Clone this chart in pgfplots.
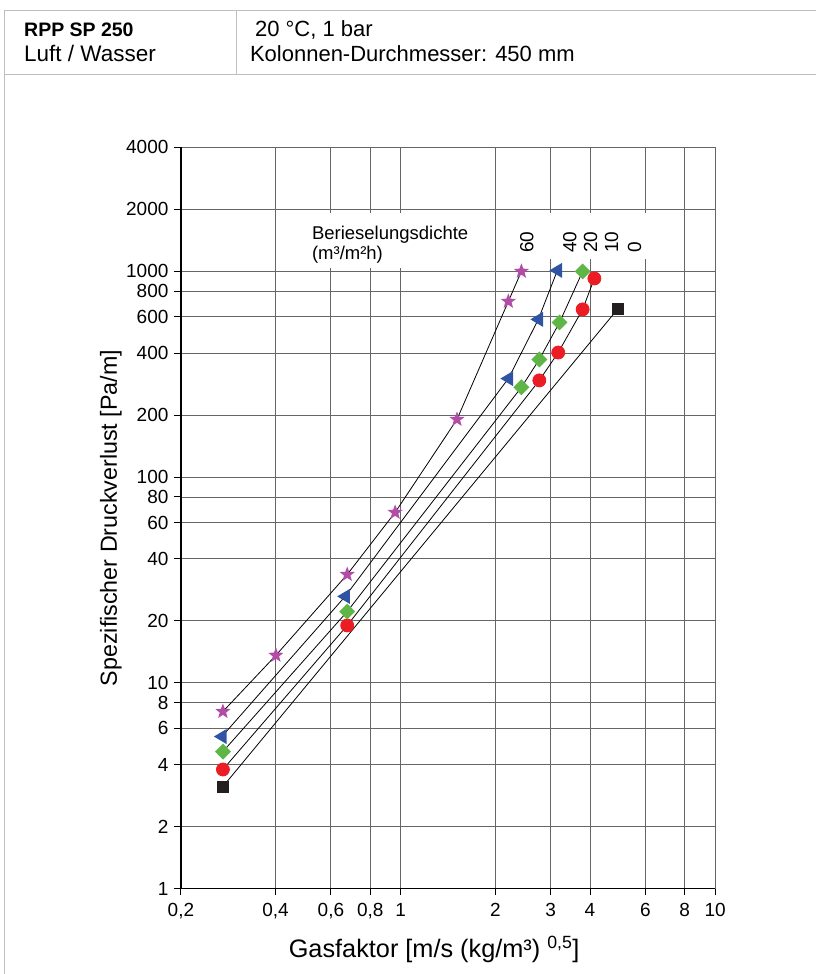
\documentclass[border=0pt]{standalone}
\usepackage{pgfplots}
\pgfplotsset{compat=1.18}
\usepackage{fontspec}
\setmainfont{Liberation Sans}
\usetikzlibrary{plotmarks}
\definecolor{cstar}{RGB}{178,76,166}
\definecolor{ctri}{RGB}{47,84,163}
\definecolor{cdia}{RGB}{95,182,70}
\definecolor{ccirc}{RGB}{236,28,36}
\definecolor{csq}{RGB}{35,31,32}
\definecolor{frame}{RGB}{190,190,190}
\pgfdeclareplotmark{fstar}{%
  \pgfpathmoveto{\pgfpointpolar{90}{\pgfplotmarksize}}%
  \pgfpathlineto{\pgfpointpolar{126}{0.42\pgfplotmarksize}}%
  \pgfpathlineto{\pgfpointpolar{162}{\pgfplotmarksize}}%
  \pgfpathlineto{\pgfpointpolar{198}{0.42\pgfplotmarksize}}%
  \pgfpathlineto{\pgfpointpolar{234}{\pgfplotmarksize}}%
  \pgfpathlineto{\pgfpointpolar{270}{0.42\pgfplotmarksize}}%
  \pgfpathlineto{\pgfpointpolar{306}{\pgfplotmarksize}}%
  \pgfpathlineto{\pgfpointpolar{342}{0.42\pgfplotmarksize}}%
  \pgfpathlineto{\pgfpointpolar{18}{\pgfplotmarksize}}%
  \pgfpathlineto{\pgfpointpolar{54}{0.42\pgfplotmarksize}}%
  \pgfpathclose\pgfusepathqfill}
\pgfdeclareplotmark{sdia}{%
  \pgfpathmoveto{\pgfqpoint{0pt}{\pgfplotmarksize}}%
  \pgfpathlineto{\pgfqpoint{\pgfplotmarksize}{0pt}}%
  \pgfpathlineto{\pgfqpoint{0pt}{-\pgfplotmarksize}}%
  \pgfpathlineto{\pgfqpoint{-\pgfplotmarksize}{0pt}}%
  \pgfpathclose\pgfusepathqfill}
\pgfdeclareplotmark{ltri}{%
  \pgfpathmoveto{\pgfqpoint{-\pgfplotmarksize}{0pt}}%
  \pgfpathlineto{\pgfqpoint{0.6\pgfplotmarksize}{0.95\pgfplotmarksize}}%
  \pgfpathlineto{\pgfqpoint{0.6\pgfplotmarksize}{-0.95\pgfplotmarksize}}%
  \pgfpathclose\pgfusepathqfill}

\pgfplotstableread{
x y
0.272 3.13
4.89 653
}\sqdata
\pgfplotstableread{
x y
0.272 3.79
0.676 19.0
2.76 295
3.17 403
3.79 653
4.13 923
}\circdata
\pgfplotstableread{
x y
0.272 4.63
0.676 22.2
2.42 273
2.76 373
3.20 564
3.79 999
}\diadata
\pgfplotstableread{
x y
0.270 5.48
0.666 26.3
2.20 301
2.74 584
3.15 1010
}\tridata
\pgfplotstableread{
x y
0.272 7.25
0.401 13.6
0.676 33.6
0.96 67.3
1.51 190.6
2.20 714
2.42 999
}\stardata

\begin{document}
\begin{tikzpicture}[x=1pt,y=1pt]
\path (0,0) rectangle (816,974);
% header frame
\draw[frame, line width=1pt] (4.5,0) -- (4.5,963.5) -- (816,963.5);
\draw[frame, line width=1pt] (4.5,899.5) -- (816,899.5);
\draw[frame, line width=1pt] (237,963.5) -- (237,899.5);
\node[anchor=base west, inner sep=0, font=\fontsize{19.5}{24}\selectfont\bfseries] at (24,937) {RPP SP 250};
\node[anchor=base west, inner sep=0, font=\fontsize{22.5}{24}\selectfont] at (24,912) {Luft / Wasser};
\node[anchor=base west, inner sep=0, font=\fontsize{22}{24}\selectfont] at (255,937) {20 °C, 1 bar};
\node[anchor=base west, inner sep=0, font=\fontsize{22}{24}\selectfont] at (250,912) {Kolonnen-Durchmesser: 450 mm};

\begin{axis}[
  at={(181pt,85pt)}, anchor=south west, scale only axis,
  width=534.5pt, height=741.5pt,
  xmode=log, ymode=log,
  xmin=0.2, xmax=10, ymin=1, ymax=4000,
  xtick={0.2,0.4,0.6,0.8,1,2,3,4,6,8,10},
  xticklabels={{0,2},{0,4},{0,6},{0,8},1,2,3,4,6,8,10},
  ytick={1,2,4,6,8,10,20,40,60,80,100,200,400,600,800,1000,2000,4000},
  yticklabels={1,2,4,6,8,10,20,40,60,80,100,200,400,600,800,1000,2000,4000},
  minor xtick={}, minor ytick={},
  grid=major,
  major grid style={black!60, line width=0.9pt},
  axis x line*=bottom, axis y line*=left,
  axis line style={-, black, line width=1.5pt},
  tick align=outside, major tick length=7pt,
  tick style={black, line width=1pt},
  ticklabel style={font=\fontsize{19}{22}\selectfont},
  xticklabel style={yshift=-4pt},
  yticklabel style={xshift=-2pt},
  label style={font=\fontsize{23.3}{27}\selectfont},
  xlabel={Gasfaktor [m/s (kg/m³) \textsuperscript{0,5}]},
  ylabel={Spezifischer Druckverlust [Pa/m]},
  xlabel style={font=\fontsize{25.3}{28}\selectfont, at={(axis description cs:0.474,-0.093)}, anchor=base},
  ylabel style={at={(axis description cs:-0.12,0.5)}, anchor=base},
  clip=false,
]
\fill[white] (axis cs:0.445,1911) rectangle (axis cs:1.79,1033);
\fill[white] (axis cs:2.15,1911) rectangle (axis cs:7.2,1142);
\addplot[black, line width=0.8pt, mark=square*, mark size=5.5pt, mark options={csq}] table {\sqdata};
\addplot[black, line width=0.8pt, mark=*, mark size=6.5pt, mark options={ccirc, draw=ccirc}] table {\circdata};
\addplot[black, line width=0.8pt, mark=sdia, mark size=8pt, mark options={cdia}] table {\diadata};
\addplot[black, line width=0.8pt, mark=ltri, mark size=8pt, mark options={ctri}] table {\tridata};
\addplot[black, line width=0.8pt, mark=fstar, mark size=8pt, mark options={cstar}] table {\stardata};
\end{axis}
\node[anchor=north west, align=left, inner sep=0, font=\fontsize{18.5}{20}\selectfont] at (312,748) {Berieselungsdichte\\(m³/m²h)};
\foreach \lab/\xx in {60/527,40/570,20/591,10/612,0/635}
  \node[rotate=90, anchor=west, inner sep=0, font=\fontsize{19}{22}\selectfont] at (\xx,721) {\lab};
\end{tikzpicture}
\end{document}
